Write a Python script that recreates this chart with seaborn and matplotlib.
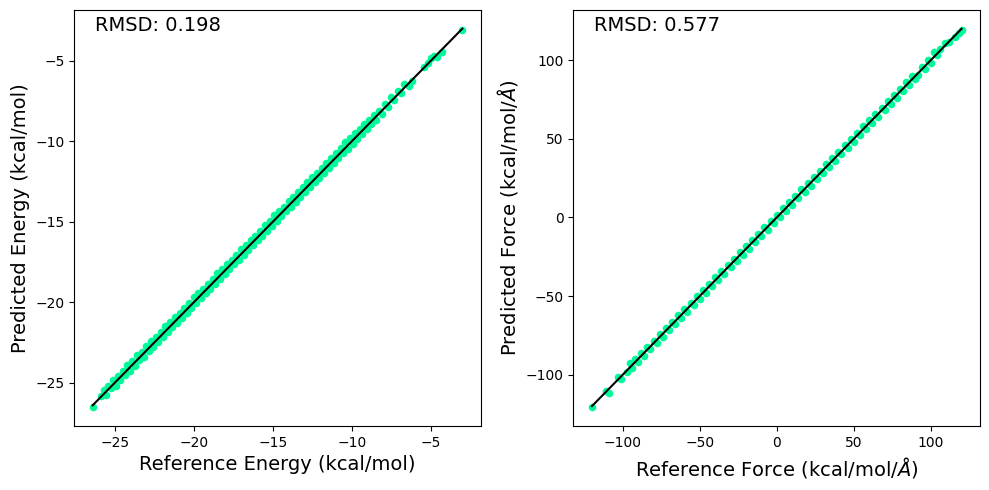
import matplotlib
matplotlib.use("Agg")
import matplotlib.pyplot as plt
import seaborn as sns

# energy parity data (kcal/mol)
energy_ref = [-25.70, -25.55, -25.40, -25.25, -25.10, -24.95, -24.80, -24.65, -24.50, -24.35,
              -24.20, -24.05, -23.90, -23.75, -23.60, -23.45, -23.30, -23.15, -23.00, -22.85,
              -22.70, -22.55, -22.40, -22.25, -22.10, -21.95, -21.80, -21.65, -21.50, -21.35,
              -21.20, -21.05, -20.90, -20.75, -20.60, -20.45, -20.30, -20.15, -20.00, -19.85,
              -19.70, -19.55, -19.40, -19.25, -19.10, -18.95, -18.80, -18.65, -18.50, -18.35,
              -18.20, -18.05, -17.90, -17.75, -17.60, -17.45, -17.30, -17.15, -17.00, -16.85,
              -16.70, -16.55, -16.40, -16.25, -16.10, -15.95, -15.80, -15.65, -15.50, -15.35,
              -15.20, -15.05, -14.90, -14.75, -14.60, -14.45, -14.30, -14.15, -14.00, -13.85,
              -13.70, -13.55, -13.40, -13.25, -13.10, -12.95, -12.80, -12.65, -12.50, -12.35,
              -12.20, -12.05, -11.90, -11.75, -11.60, -11.45, -11.30, -11.15, -11.00, -10.85,
              -10.70, -10.55, -10.40, -10.25, -10.10, -9.95, -9.80, -9.65, -9.50, -9.35,
              -9.20, -9.05, -8.90, -8.75, -8.60, -8.45, -8.30, -8.10, -7.90, -7.70,
              -7.50, -7.30, -7.10, -6.90, -6.70, -6.40, -6.20, -5.40, -5.20, -5.00,
              -4.80, -4.60, -4.30, -3.00, -26.40, -25.90]
energy_pred = [-25.45, -25.75, -25.20, -25.35, -24.85, -25.20, -24.60, -24.85, -24.25, -24.50,
               -23.90, -24.25, -23.65, -23.95, -23.30, -23.60, -23.10, -23.40, -22.70, -23.05,
               -22.40, -22.75, -22.15, -22.45, -21.85, -22.15, -21.50, -21.85, -21.20, -21.55,
               -20.90, -21.30, -20.65, -20.95, -20.35, -20.65, -20.05, -20.35, -19.70, -20.05,
               -19.45, -19.75, -19.15, -19.45, -18.85, -19.15, -18.55, -18.85, -18.20, -18.55,
               -17.95, -18.25, -17.65, -17.95, -17.35, -17.65, -17.05, -17.35, -16.70, -17.05,
               -16.45, -16.75, -16.15, -16.45, -15.85, -16.15, -15.55, -15.85, -15.20, -15.55,
               -14.95, -15.25, -14.60, -14.95, -14.35, -14.65, -14.05, -14.35, -13.70, -14.05,
               -13.45, -13.75, -13.15, -13.45, -12.85, -13.15, -12.55, -12.85, -12.20, -12.55,
               -11.95, -12.25, -11.65, -11.95, -11.35, -11.65, -11.05, -11.35, -10.70, -11.05,
               -10.40, -10.75, -10.05, -10.45, -9.80, -10.15, -9.50, -9.85, -9.25, -9.55,
               -8.95, -9.25, -8.65, -8.90, -8.35, -8.65, -8.10, -8.30, -7.65, -7.85,
               -7.25, -7.45, -6.90, -7.00, -6.45, -6.55, -6.25, -5.35, -5.10, -4.85,
               -4.70, -4.75, -4.45, -3.10, -26.50, -25.80]

# force parity data (kcal/mol/A)
force_ref = [-92, -90, -88, -86, -84, -82, -80, -78, -76, -74,
             -72, -70, -68, -66, -64, -62, -60, -58, -56, -54,
             -52, -50, -48, -46, -44, -42, -40, -38, -36, -34,
             -32, -30, -28, -26, -24, -22, -20, -18, -16, -14,
             -12, -10, -8, -6, -4, -2, 0, 2, 4, 6,
             8, 10, 12, 14, 16, 18, 20, 22, 24, 26,
             28, 30, 32, 34, 36, 38, 40, 42, 44, 46,
             48, 50, 52, 54, 56, 58, 60, 62, 64, 66,
             68, 70, 72, 74, 76, 78, 80, 82, 84, 86,
             88, 90, 92, 94, 96, 98, 100, 102, 104, 106,
             109, 112, 116, 118, 120, -120, -111, -109, -103, -101,
             -97, -95, -94]
force_pred = [-90.2, -91.8, -86.4, -88.0, -82.1, -83.9, -78.3, -80.0, -74.1, -75.9,
              -70.2, -71.9, -66.3, -67.8, -62.1, -63.9, -58.2, -59.9, -54.3, -55.8,
              -50.2, -51.8, -46.2, -47.9, -42.3, -43.8, -38.2, -39.9, -34.2, -35.8,
              -30.3, -31.8, -26.2, -27.8, -22.3, -23.7, -18.2, -19.8, -14.3, -15.7,
              -10.3, -11.8, -6.2, -7.8, -2.3, -3.8, 1.7, 0.2, 5.8, 4.2,
              9.8, 8.2, 13.7, 12.2, 17.8, 16.1, 21.8, 20.2, 25.7, 24.2,
              29.8, 28.1, 33.9, 32.2, 37.8, 36.1, 41.9, 40.1, 45.8, 44.2,
              49.9, 48.1, 53.8, 52.2, 57.9, 56.1, 61.8, 60.2, 65.9, 64.1,
              69.8, 68.2, 73.9, 72.1, 77.8, 76.2, 81.9, 80.2, 85.8, 84.3,
              89.8, 88.2, 90.5, 95.9, 94.1, 99.8, 98.5, 105.2, 103.1, 106.8,
              110.9, 111.6, 114.9, 117.5, 119.4, -120.5, -110.2, -111.6, -101.8, -102.8,
              -98.4, -92.6, -95.8]

rmsd = ["0.198", "0.577"]

fig, axes = plt.subplots(1, 2, figsize=(9.89, 4.9), dpi=100)
fig.subplots_adjust(left=0.075, right=0.991, bottom=0.131, top=0.98, wspace=0.228)

panels = [
    (energy_ref, energy_pred, "Reference Energy (kcal/mol)", "Predicted Energy (kcal/mol)"),
    (force_ref, force_pred, r"Reference Force (kcal/mol/$\AA$)", r"Predicted Force (kcal/mol/$\AA$)"),
]

for ax, (ref, pred, xl, yl), r in zip(axes, panels, rmsd):
    sns.scatterplot(x=ref, y=pred, ax=ax, color="#00FA9A", s=30, linewidth=0)
    lo, hi = min(ref), max(ref)
    ax.plot([lo, hi], [lo, hi], color="black", lw=1.5)
    ax.set_xlabel(xl, fontsize=14)
    ax.set_ylabel(yl, fontsize=14)
    ax.text(0.05, 0.95, "RMSD: " + r, transform=ax.transAxes, fontsize=14)

plt.savefig("out.png", dpi=100)
